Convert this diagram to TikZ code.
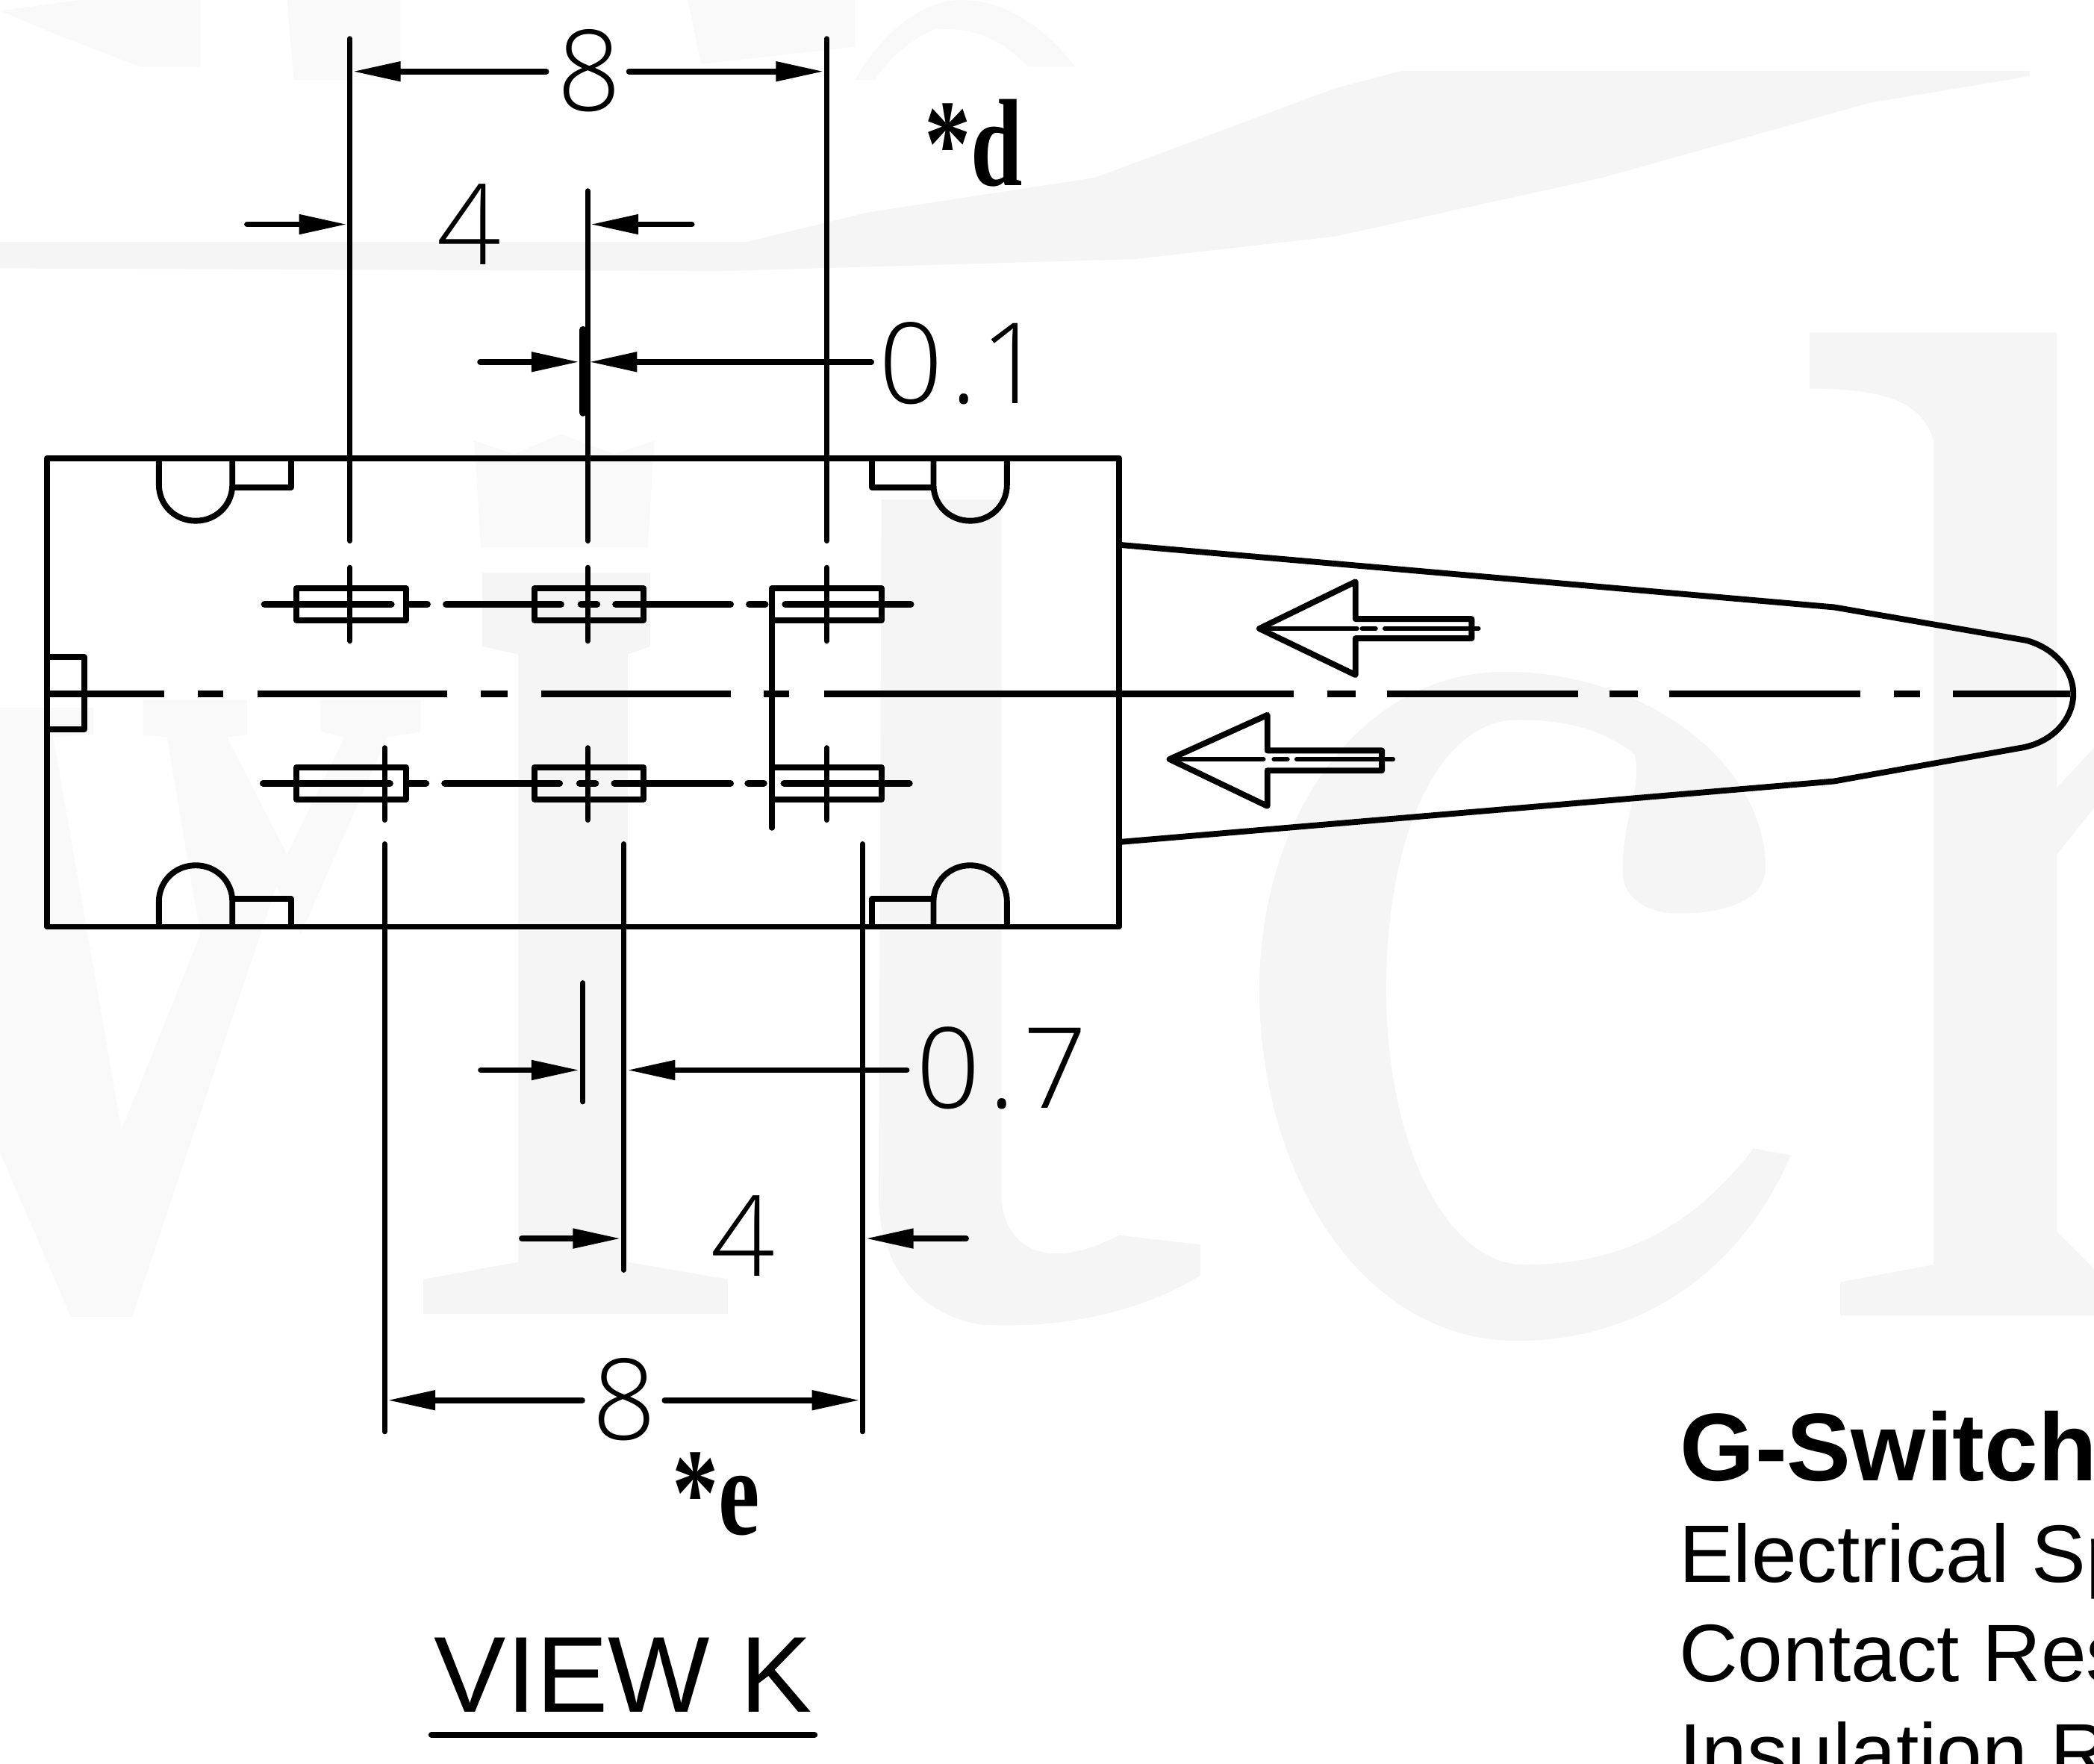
\documentclass[tikz,border=0pt]{standalone}
\usepackage{fontspec}
\setmainfont{Liberation Sans}
\newfontfamily\cadfont{Open Sans Light}
\newfontfamily\serifbold{Liberation Serif Bold}
\usetikzlibrary{arrows.meta}
\tikzset{
  wm/.style={fill=black!4,draw=none},
  wmf/.style={fill=black!2.5,draw=none},
  vln/.style={line width=4pt,line cap=round},
  ctrl/.style={line width=5pt,line cap=round},
  body/.style={line width=4.4pt,line join=round},
  dimline/.style={line width=4.3pt,line cap=round,-{Triangle[length=36pt,width=14pt]}},
  digit/.style={inner sep=0pt,anchor=base,font=\cadfont\fontsize{84}{90}\selectfont},
  digitl/.style={inner sep=0pt,anchor=base west,font=\cadfont\fontsize{84}{90}\selectfont},
  starmark/.style={inner sep=0pt,anchor=base west,font=\serifbold\fontsize{93}{100}\selectfont},
  spec/.style={inner sep=0pt,anchor=base west,font=\fontsize{61}{70}\selectfont},
}
\begin{document}
\begin{tikzpicture}[x=1pt,y=-1pt]
\useasboundingbox (0,0) rectangle (1568,1320.4);
\begin{scope}
\clip (0,0) rectangle (1568,1320.4);
% pale watermark
\fill[wm] (0,181) -- (560,181) -- (650,159) -- (820,133) -- (1000,66) -- (1050,53) -- (1520,53) -- (1520,57) -- (1400,77) -- (1200,133) -- (1000,177) -- (850,194) -- (540,203) -- (0,201) -- cycle;
\fill[wmf] (0,8) -- (60,0) -- (150,0) -- (150,50) -- (105,50) -- (40,25) -- cycle;
\fill[wmf] (215,0) -- (300,0) -- (300,60) -- (220,60) -- cycle;
\fill[wmf] (515,0) -- (640,0) -- (640,35) -- (525,48) -- cycle;
\fill[wmf] (640,60) .. controls (660,25) and (690,0) .. (720,0) .. controls (760,0) and (790,30) .. (805,50) -- (770,50) .. controls (750,30) and (730,20) .. (700,22) .. controls (680,30) and (665,45) .. (655,60) -- cycle;
% W fragment
\fill[wmf] (0,530) -- (70,530) -- (70,550) -- (40,552) -- (91,846) -- (150,700) -- (125,552) -- (107,550) -- (107,524) -- (185,524) -- (185,550) -- (170,552) -- (215,640) -- (99,986) -- (53,986) -- (0,863) -- cycle;
\fill[wmf] (240,524) -- (315,524) -- (315,548) -- (290,552) -- (225,700) -- (205,660) -- (258,552) -- (240,548) -- cycle;
% i stem with crown
\fill[wm] (361,429) -- (487,429) -- (487,484) -- (470,490) -- (470,945) -- (545,958) -- (545,984) -- (317,984) -- (317,958) -- (388,945) -- (388,490) -- (361,484) -- cycle;
\fill[wmf] (355,330) -- (385,340) -- (420,325) -- (460,340) -- (490,330) -- (485,410) -- (360,410) -- cycle;
% t
\fill[wm] (660,374) -- (750,374) -- (750,900) .. controls (755,940) and (790,950) .. (838,925) -- (899,932) -- (899,955) .. controls (850,985) and (790,995) .. (735,992) .. controls (690,985) and (660,950) .. (658,900) -- cycle;
% c
\fill[wm,even odd rule] (1341,865) .. controls (1300,960) and (1220,1004) .. (1136,1004) .. controls (1020,1004) and (943,880) .. (943,741) .. controls (943,610) and (1020,503) .. (1127,503) .. controls (1230,503) and (1322,570) .. (1322,650) .. controls (1322,675) and (1290,684) .. (1257,684) .. controls (1230,684) and (1215,670) .. (1215,653) .. controls (1215,610) and (1230,590) .. (1224,565) .. controls (1200,545) and (1170,539) .. (1136,539) .. controls (1080,539) and (1038,620) .. (1038,741) .. controls (1038,860) and (1085,947) .. (1141,947) .. controls (1220,947) and (1270,915) .. (1313,860) -- cycle;
% h
\fill[wm] (1355,249) -- (1540,249) -- (1540,590) -- (1568,560) -- (1568,605) -- (1540,640) -- (1540,922) -- (1568,950) -- (1568,985) -- (1378,985) -- (1378,960) -- (1448,947) -- (1448,330) .. controls (1440,305) and (1420,291) .. (1355,291) -- cycle;
% body
\draw[body] (35,343) rectangle (838,694);
\draw[body] (35,492) -| (63,546) -- (35,546);
\draw[body] (119,343) -- (119,363) .. controls (119,378) and (131,390) .. (146.5,390) .. controls (162,390) and (174,378) .. (174,363) -- (174,343);
\draw[body] (174,365) -| (218,343);
\draw[body] (699,343) -- (699,363) .. controls (699,378) and (711,390) .. (726.5,390) .. controls (742,390) and (754,378) .. (754,363) -- (754,343);
\draw[body] (699,365) -| (653,343);
\draw[body] (119,694) -- (119,675) .. controls (119,660) and (131,648) .. (146.5,648) .. controls (162,648) and (174,660) .. (174,675) -- (174,694);
\draw[body] (174,673) -| (218,694);
\draw[body] (699,694) -- (699,675) .. controls (699,660) and (711,648) .. (726.5,648) .. controls (742,648) and (754,660) .. (754,675) -- (754,694);
\draw[body] (699,673) -| (653,694);
% contacts
\foreach \cx in {263,441,619} {
  \draw[body] (\cx-41,440.5) rectangle (\cx+41,464.5);
  \draw[body] (\cx-41,574.5) rectangle (\cx+41,598.5);
}
% contact centre lines
\foreach \a/\b in {198/293,307/320,334/420,435/447,461/547,561/573,588/682} \draw[ctrl] (\a,452.5) -- (\b,452.5);
\foreach \a/\b in {197/292,306/319,333/419,434/446,460/547,560/572,587/681} \draw[ctrl] (\a,586.5) -- (\b,586.5);
% short crosses
\foreach \cx in {262,440,619} \draw[vln] (\cx,425) -- (\cx,480);
\foreach \cx in {288,440,619} \draw[vln] (\cx,560) -- (\cx,614);
\draw[vln] (578,465) -- (578,620);
% centre line
\foreach \a/\b in {35/123,148/167,193/335,360/380,405/547,572/591,617/969,994/1015,1038.5/1181.5,1205/1226.5,1250/1393,1418/1437.5,1462.5/1550} \draw[line width=5pt] (\a,519.5) -- (\b,519.5);
% tail
\draw[body] (838.5,408) -- (1373.4,454.7) -- (1517.6,479.6) .. controls (1540,486) and (1552.5,503) .. (1552.5,519.4) .. controls (1552.5,538) and (1538,555) .. (1515,559.7) -- (1373.4,585) -- (838.5,630.5);
% direction arrows
\draw[body] (943,470.7) -- (1015,435.6) -- (1015,463.5) -- (1102,463.5) -- (1102,478) -- (1015,478) -- (1015,505.4) -- cycle;
\foreach \a/\b in {943/1016,1020/1030,1037/1107} \draw[line width=3.6pt,line cap=round] (\a,470.7) -- (\b,470.7);
\draw[body] (875.7,568.5) -- (949,535.4) -- (949,562) -- (1034.8,562) -- (1034.8,577) -- (949,577) -- (949,603.6) -- cycle;
\foreach \a/\b in {876/946,954/964,971/1043} \draw[line width=3.6pt,line cap=round] (\a,568.5) -- (\b,568.5);
% extension lines
\draw[vln] (262,29) -- (262,405);
\draw[vln] (440,143) -- (440,405);
\draw[vln] (619,29) -- (619,405);
\draw[vln] (288,632) -- (288,1072);
\draw[vln] (467,632) -- (467,951);
\draw[vln] (646,632) -- (646,1072);
\draw[line width=5.6pt,line cap=round] (436.5,247) -- (436.5,309);
\draw[vln] (436.5,736) -- (436.5,825);
% dimensions, upper
\draw[dimline] (409,53.5) -- (264,53.5);
\draw[dimline] (471,53.5) -- (617,53.5);
\draw[dimline] (185,168) -- (260,168);
\draw[dimline] (518,168) -- (442,168);
\draw[dimline] (359.5,271) -- (434,271);
\draw[dimline] (652.5,271) -- (441,271);
% dimensions, lower
\draw[dimline] (360,801.3) -- (434,801.3);
\draw[dimline] (679,801.3) -- (469.5,801.3);
\draw[dimline] (390.7,927.4) -- (465,927.4);
\draw[dimline] (723.4,927.4) -- (648,927.4);
\draw[dimline] (436,1048.5) -- (290,1048.5);
\draw[dimline] (497.7,1048.5) -- (644,1048.5);
% labels
\node[digit] (ltop) at (441,83) {8};
\node[digit] (lfour) at (351,198) {4};
\node[digitl] (lpone) at (658,302) {0\kern6pt.\kern2pt1};
\node[digitl] (lpseven) at (686,829.7) {0\kern6pt.\kern6pt7};
\node[digit] (lfourb) at (556.5,955.8) {4};
\node[digit] (lbot) at (467.5,1078) {8};
\node[starmark] (md) at (692,139) {\scalebox{0.75}[1]{*d}};
\node[starmark] (me) at (503,1149) {\scalebox{0.75}[1]{*e}};
\node[inner sep=0pt,anchor=base west,font=\fontsize{80.8}{90}\selectfont] (vk) at (325,1282) {VIEW K};
\draw[line width=4.4pt,line cap=round] (323,1299) -- (610,1299);
% text block
\node[inner sep=0pt,anchor=base west,font=\bfseries\fontsize{72}{80}\selectfont] (tg) at (1258,1108.6) {G-Switch};
\node[spec] (t1) at (1257,1184.7) {Electrical Sp};
\node[spec] (t2) at (1257,1259) {Contact Res};
\node[spec] (t3) at (1257,1333.6) {Insulation R};
\end{scope}
\end{tikzpicture}
\end{document}
